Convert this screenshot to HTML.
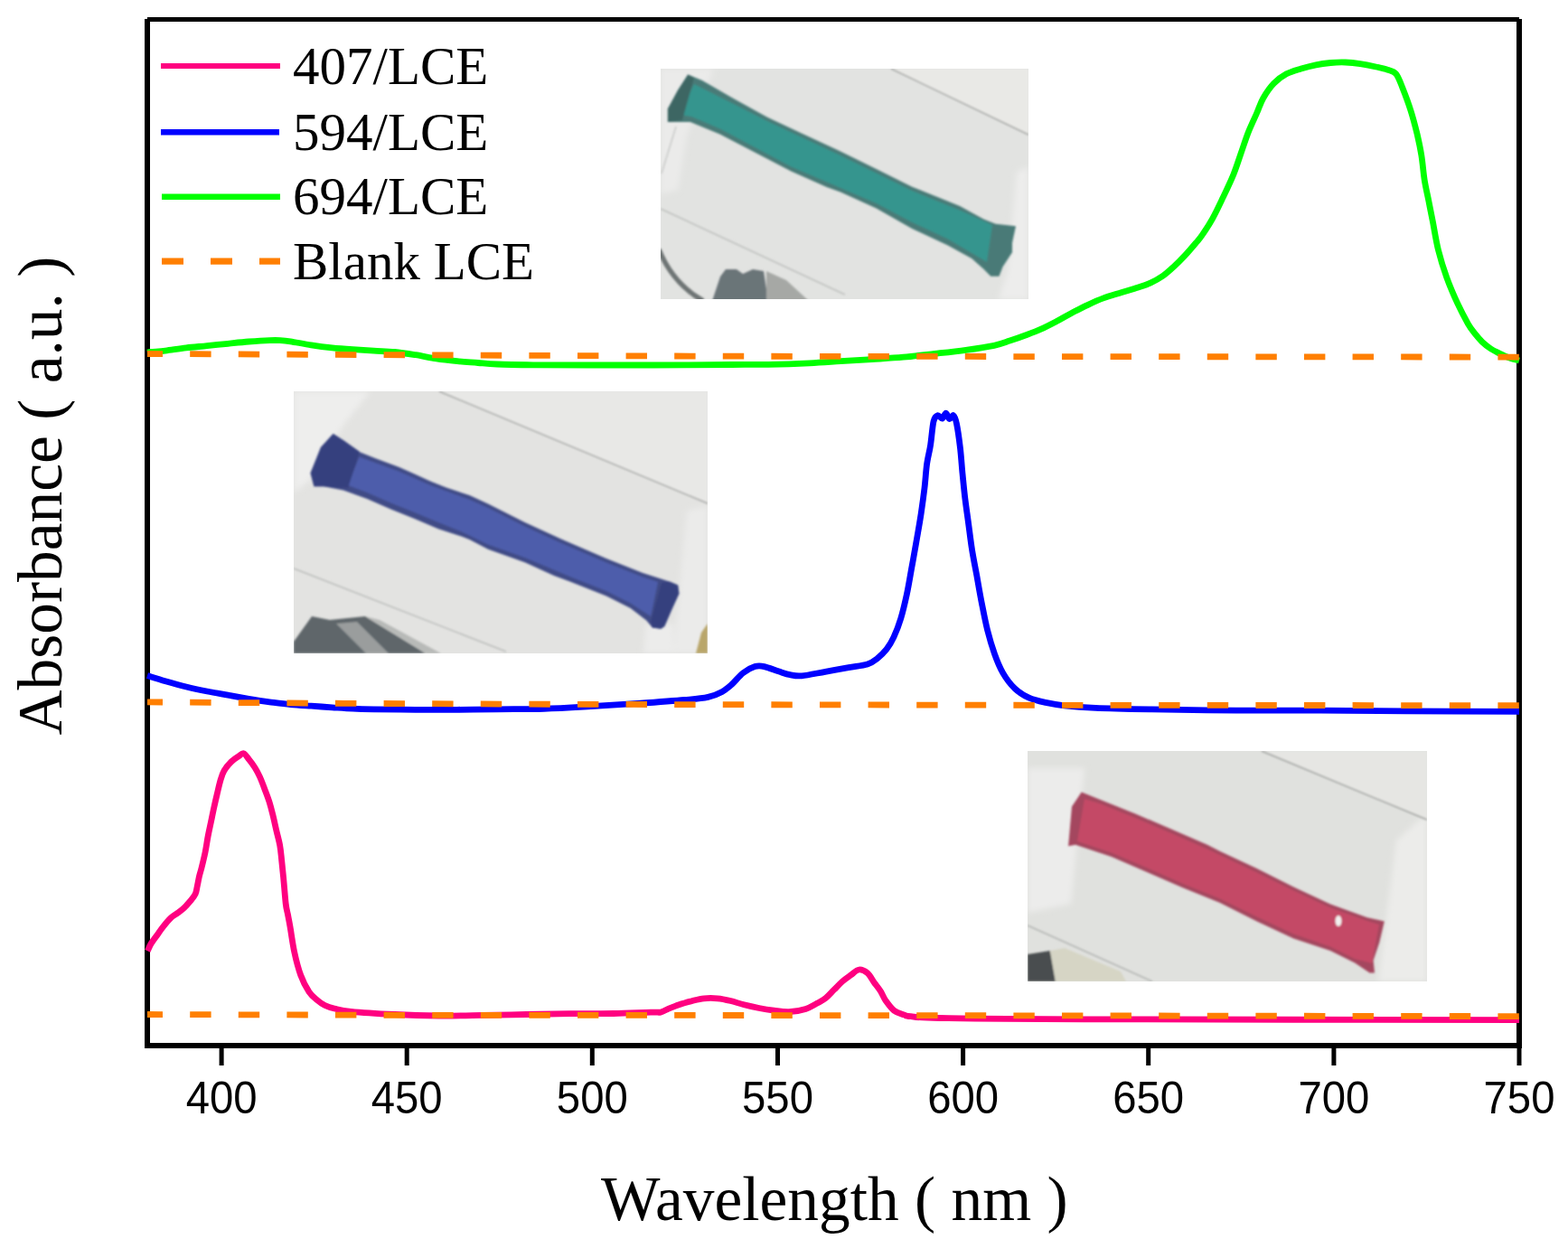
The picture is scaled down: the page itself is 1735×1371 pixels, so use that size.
<!DOCTYPE html>
<html><head><meta charset="utf-8"><title>Absorbance spectra</title>
<style>html,body{margin:0;padding:0;background:#fff;}body{width:1735px;height:1371px;overflow:hidden;}svg{display:block;}</style>
</head><body>
<svg width="1735" height="1371" viewBox="0 0 1735 1371">
<rect x="0" y="0" width="1735" height="1371" fill="#ffffff"/>
<defs>
<clipPath id="cg"><rect x="731" y="76" width="407" height="255"/></clipPath>
<clipPath id="cb"><rect x="325" y="433" width="458" height="290"/></clipPath>
<clipPath id="cr"><rect x="1137" y="831" width="442" height="255"/></clipPath>
<filter id="bl" x="-5%" y="-5%" width="110%" height="110%"><feGaussianBlur stdDeviation="1.3"/></filter>
<filter id="bl2" x="-10%" y="-10%" width="120%" height="120%"><feGaussianBlur stdDeviation="3"/></filter>
</defs>
<!-- green photo -->
<g clip-path="url(#cg)">
<rect x="731" y="76" width="407" height="255" fill="#e2e3e1"/>
<g filter="url(#bl2)">
<path d="M731,76 L790,76 L760,150 L750,210 L731,215 Z" fill="#ebebea"/>
<path d="M1125,190 L1138,185 L1138,331 L1105,331 L1115,300 Z" fill="#ededec"/>

</g>
<g filter="url(#bl)">
<path d="M986,76 L1138,76 L1138,149 Z" fill="#e9e9e6"/>
<path d="M986,76 L1138,149" stroke="#a4a6a4" stroke-width="1.4"/>
<path d="M731,231 L935,326" stroke="#bfc1bf" stroke-width="1.6"/>
<path d="M748,140 L732,192" stroke="#c8cac8" stroke-width="1.5"/>
<path d="M729,276 C738,298 752,318 778,333" stroke="#6e7474" stroke-width="5.5" fill="none"/>
<path d="M788,333 L797,306 L803,298 L815,298 L822,303 L833,298 L845,300 L850,333 Z" fill="#6b7478"/>
<path d="M848,300 L870,310 L895,333 L848,333 Z" fill="#a6a8a5"/>
<path d="M761.2,82.6 L777,89.1 L809.8,108 L849.1,129.8 L888.5,148.2 L927.9,166.6 L969.6,187 L1009.2,206.7 L1062,227.9 L1088.4,242.4 L1101.6,247.7 L1124,250.3 L1120,268.8 L1120,279.3 L1109.5,295.2 L1105.5,305.7 L1096.3,305.7 L1088.4,297.8 L1075.2,286 L1048.8,271.4 L1009.2,252.9 L969.6,230.5 L930,212.5 L914.7,207 L875.4,189.5 L836,169 L796.6,148.5 L763.8,135.1 L738.9,135.1 L738.9,120.6 L750,100 Z" fill="#497a77"/>
<path d="M768,93 L809.8,114 L849.1,134 L888.5,152.5 L927.9,171 L969.6,191.5 L1009.2,211 L1062,232.5 L1098,249 L1092,290 L1048.8,264.5 L1009.2,246 L969.6,225 L930,208 L875.4,184.5 L836,163.5 L796.6,142.5 L765,129 L752,127 Z" fill="#35958e"/>
<path d="M761.2,82.6 L768,86 L755,133 L738.9,135.1 L738.9,120.6 L750,100 Z" fill="#3e6664"/>
</g>
</g>
<!-- blue photo -->
<g clip-path="url(#cb)">
<rect x="325" y="433" width="458" height="290" fill="#e3e3e1"/>
<g filter="url(#bl2)">
<path d="M325,433 L410,433 L380,470 L345,530 L325,545 Z" fill="#eeeeed"/>
<path d="M745,723 L760,565 L783,560 L783,723 Z" fill="#ebebea"/>
<path d="M715,690 L745,690 L745,723 L712,723 Z" fill="#ececeb"/>
</g>
<g filter="url(#bl)">
<path d="M486,433 L783,433 L783,557 Z" fill="#e8e8e6"/>
<path d="M486,433 L783,557" stroke="#a4a6a4" stroke-width="1.4"/>
<path d="M325,629 L560,721" stroke="#bcbebc" stroke-width="1.6"/>
<path d="M325,710 L345,682 L365,686 L404,682 L471,723 L325,723 Z" fill="#5f666a"/>
<path d="M372,690 L395,688 L430,723 L405,723 Z" fill="#9a9d9d"/>
<path d="M404,682 L420,686 L488,723 L471,723 Z" fill="#b8bab8"/>
<path d="M776,700 L783,690 L783,723 L770,723 Z" fill="#b9a66a"/>
<path d="M368.7,479.9 L380.7,487.8 L397.5,500.1 L415,507.1 L441.2,516.7 L458.7,524.6 L476.2,532.5 L493.7,539.5 L520,548.2 L540,557.5 L580.7,577.9 L621,596.5 L670.9,617.9 L711.2,634 L740.7,643.4 L750.1,647.4 L751.4,656.8 L743.4,674.3 L735.3,693.1 L731.3,695.8 L721.9,694.4 L715.2,686.4 L697.7,673 L670.9,659.5 L630.6,643.4 L613,636.9 L580.7,622.3 L540,607.8 L520,597.2 L511.2,593.7 L485,585.2 L458.7,574 L432.5,563.4 L406.2,552 L380,542.5 L358.1,538.2 L347.5,538.2 L343.6,523.6 L355,495 Z" fill="#414c86"/>
<path d="M397.5,505.5 L415,512 L441.2,521.5 L476.2,537 L520,553 L540,562 L580.7,582.5 L621,601 L670.9,622.5 L711.2,638.5 L728,644 L720,682 L697.7,667.5 L670.9,654 L630.6,638 L580.7,617 L540,602.5 L511.2,588.5 L485,578 L458.7,567 L432.5,556.5 L406.2,545 L385,537 Z" fill="#4d5dab"/>
<path d="M368.7,479.9 L380.7,487.8 L397.9,499.8 L385,540 L358.1,538.2 L347.5,538.2 L343.6,523.6 L355,495 Z" fill="#363f7e"/>
<path d="M740.7,643.4 L750.1,647.4 L751.4,656.8 L743.4,674.3 L735.3,693.1 L731.3,695.8 L721.9,694.4 L720,688 L732,645 Z" fill="#363f7e"/>
</g>
</g>
<!-- red photo -->
<g clip-path="url(#cr)">
<rect x="1137" y="831" width="442" height="255" fill="#e0e1de"/>
<g filter="url(#bl2)">
<path d="M1137,850 L1200,850 L1185,1000 L1137,1010 Z" fill="#ececeb"/>
<path d="M1545,930 L1579,900 L1579,1086 L1525,1086 Z" fill="#ececea"/>
</g>
<g filter="url(#bl)">
<path d="M1396,831 L1579,831 L1579,907 Z" fill="#e6e6e3"/>
<path d="M1396,831 L1579,907" stroke="#9ea09e" stroke-width="1.4"/>
<path d="M1137,1024 L1275,1086" stroke="#b4b6b4" stroke-width="1.6"/>
<path d="M1137,1056 L1162,1052 L1168,1086 L1137,1086 Z" fill="#4a4e50"/>
<path d="M1162,1052 L1178,1049 L1240,1075 L1246,1086 L1168,1086 Z" fill="#d6d5c5"/>
<path d="M1196.7,876.5 L1216.5,884.5 L1256.3,900.4 L1296.1,917.6 L1335.9,934.8 L1350,942.1 L1390.7,961 L1431.4,981.4 L1472.1,1000.4 L1512.8,1015.3 L1531.8,1019.4 L1526.4,1042.4 L1519.6,1062.8 L1521,1076.4 L1515.5,1076.4 L1499.2,1065.5 L1472.1,1052 L1431.4,1038.4 L1390.7,1019.4 L1350,999 L1309.3,982.6 L1269.6,965.3 L1229.8,948.1 L1190,934.8 L1182.1,936.2 L1186,892.4 Z" fill="#a4465e"/>
<path d="M1200,884 L1216.5,889 L1256.3,905 L1296.1,922 L1335.9,939.5 L1390.7,965.5 L1431.4,985.5 L1472.1,1004.5 L1512.8,1019 L1526,1023 L1518,1066 L1499.2,1061 L1472.1,1047.5 L1431.4,1033.5 L1390.7,1014.5 L1350,994.5 L1309.3,978 L1269.6,960.5 L1229.8,943.5 L1192,931 Z" fill="#c44a66"/>
<ellipse cx="1481" cy="1019" rx="3.5" ry="6" fill="#f2f2f0"/>
</g>
</g>

<rect x="160" y="21" width="6" height="1139" fill="#000"/>
<rect x="1678" y="21" width="6" height="1139" fill="#000"/>
<rect x="163" y="19" width="1518" height="5" fill="#000"/>
<rect x="163" y="1154" width="1518" height="6" fill="#000"/>
<rect x="242.6" y="1158" width="5" height="21" fill="#000"/>
<rect x="447.7" y="1158" width="5" height="21" fill="#000"/>
<rect x="652.8" y="1158" width="5" height="21" fill="#000"/>
<rect x="858.0" y="1158" width="5" height="21" fill="#000"/>
<rect x="1063.1" y="1158" width="5" height="21" fill="#000"/>
<rect x="1268.2" y="1158" width="5" height="21" fill="#000"/>
<rect x="1473.4" y="1158" width="5" height="21" fill="#000"/>
<rect x="1678.5" y="1158" width="5" height="21" fill="#000"/>
<text transform="translate(245.1,1232) scale(0.965,1.033)" x="0" y="0" text-anchor="middle" font-family="Liberation Sans, Arial, sans-serif" font-size="49">400</text>
<text transform="translate(450.2,1232) scale(0.965,1.033)" x="0" y="0" text-anchor="middle" font-family="Liberation Sans, Arial, sans-serif" font-size="49">450</text>
<text transform="translate(655.3,1232) scale(0.965,1.033)" x="0" y="0" text-anchor="middle" font-family="Liberation Sans, Arial, sans-serif" font-size="49">500</text>
<text transform="translate(860.5,1232) scale(0.965,1.033)" x="0" y="0" text-anchor="middle" font-family="Liberation Sans, Arial, sans-serif" font-size="49">550</text>
<text transform="translate(1065.6,1232) scale(0.965,1.033)" x="0" y="0" text-anchor="middle" font-family="Liberation Sans, Arial, sans-serif" font-size="49">600</text>
<text transform="translate(1270.7,1232) scale(0.965,1.033)" x="0" y="0" text-anchor="middle" font-family="Liberation Sans, Arial, sans-serif" font-size="49">650</text>
<text transform="translate(1475.9,1232) scale(0.965,1.033)" x="0" y="0" text-anchor="middle" font-family="Liberation Sans, Arial, sans-serif" font-size="49">700</text>
<text transform="translate(1681.0,1232) scale(0.965,1.033)" x="0" y="0" text-anchor="middle" font-family="Liberation Sans, Arial, sans-serif" font-size="49">750</text>
<path d="M163.3,1052.3 C164.0,1050.9 165.4,1047.0 167.3,1043.9 C169.2,1040.8 172.4,1036.8 174.6,1033.7 C176.8,1030.7 178.0,1028.6 180.4,1025.6 C182.8,1022.5 186.5,1017.9 189.2,1015.4 C191.9,1012.9 194.1,1012.1 196.5,1010.3 C198.9,1008.5 201.4,1006.8 203.8,1004.5 C206.2,1002.2 208.9,999.0 211.0,996.5 C213.1,994.0 215.0,991.9 216.2,989.2 C217.4,986.5 217.6,983.7 218.3,980.4 C219.0,977.1 219.7,972.9 220.5,969.5 C221.3,966.1 222.0,964.4 223.1,960.0 C224.2,955.6 225.8,949.2 227.0,943.4 C228.2,937.6 229.1,930.7 230.2,925.0 C231.3,919.3 232.4,914.5 233.5,909.3 C234.6,904.0 235.7,898.5 236.8,893.5 C237.9,888.5 238.9,884.1 240.1,879.1 C241.3,874.1 242.7,867.7 244.0,863.3 C245.3,858.9 246.0,856.2 248.0,852.8 C250.0,849.4 253.2,845.6 255.8,843.0 C258.4,840.4 261.4,838.6 263.7,837.1 C266.0,835.6 267.6,833.2 269.6,833.8 C271.6,834.3 273.4,837.8 275.5,840.4 C277.6,843.0 280.1,846.3 282.1,849.5 C284.1,852.7 285.6,855.6 287.4,859.4 C289.1,863.2 290.9,867.9 292.6,872.5 C294.4,877.1 296.4,882.2 297.9,887.0 C299.4,891.8 300.5,896.1 301.8,901.4 C303.1,906.6 304.4,912.8 305.7,918.5 C307.0,924.2 308.7,930.0 309.7,935.5 C310.7,941.0 311.0,945.4 311.6,951.3 C312.2,957.2 312.8,962.9 313.6,971.0 C314.4,979.1 315.4,993.2 316.2,1000.0 C317.0,1006.8 317.7,1007.8 318.5,1012.0 C319.3,1016.2 319.8,1018.5 321.0,1025.4 C322.2,1032.3 323.8,1044.5 325.7,1053.4 C327.6,1062.3 330.0,1071.6 332.7,1079.0 C335.4,1086.4 338.9,1093.0 342.0,1097.7 C345.1,1102.4 348.5,1104.5 351.4,1107.0 C354.3,1109.5 356.4,1111.0 359.5,1112.5 C362.6,1114.0 365.2,1114.9 370.0,1116.0 C374.8,1117.1 377.3,1118.2 388.4,1119.3 C399.5,1120.4 420.7,1121.7 436.8,1122.5 C452.9,1123.3 469.0,1123.8 485.2,1124.0 C501.4,1124.2 517.6,1123.7 533.7,1123.4 C549.8,1123.2 565.9,1122.8 582.0,1122.5 C598.1,1122.2 614.3,1121.9 630.5,1121.7 C646.7,1121.5 664.1,1121.8 679.0,1121.5 C693.9,1121.2 711.3,1120.3 720.0,1120.1 C728.7,1119.9 727.9,1120.6 731.0,1120.1 C734.1,1119.5 735.0,1118.2 738.4,1116.8 C741.8,1115.4 746.8,1113.3 751.4,1111.8 C756.0,1110.2 761.5,1108.7 766.1,1107.5 C770.7,1106.3 774.4,1105.2 779.0,1104.8 C783.6,1104.3 788.9,1104.3 793.8,1104.8 C798.7,1105.2 803.6,1106.3 808.5,1107.5 C813.4,1108.7 818.1,1110.5 823.3,1111.8 C828.5,1113.1 834.4,1114.4 839.9,1115.5 C845.4,1116.6 851.0,1117.5 856.5,1118.2 C862.0,1118.9 867.3,1120.0 873.1,1119.7 C878.9,1119.4 886.3,1118.0 891.5,1116.4 C896.7,1114.8 900.7,1112.0 904.4,1110.0 C908.1,1108.0 910.6,1106.9 913.7,1104.4 C916.8,1101.9 919.8,1098.3 922.9,1095.2 C926.0,1092.1 929.0,1088.7 932.1,1086.0 C935.2,1083.3 938.2,1081.3 941.3,1079.1 C944.4,1076.9 947.4,1073.4 950.5,1073.0 C953.6,1072.6 957.0,1074.4 959.8,1076.7 C962.6,1079.0 964.6,1083.5 967.1,1086.9 C969.6,1090.3 972.4,1093.6 974.5,1097.0 C976.6,1100.4 977.5,1103.7 980.0,1107.2 C982.5,1110.7 985.9,1115.6 989.3,1118.2 C992.7,1120.8 997.2,1121.8 1000.3,1122.9 C1003.4,1124.0 1001.1,1124.1 1007.7,1124.7 C1014.3,1125.3 1008.0,1126.0 1040.0,1126.5 C1072.0,1127.0 1093.2,1127.5 1200.0,1127.8 C1306.8,1128.1 1600.8,1128.5 1681.0,1128.6" fill="none" stroke="#ff0080" stroke-width="6.8" stroke-linejoin="round"/>
<path d="M163.0,1122.5 L450.0,1123.3 L1000.0,1123.6 L1681.0,1124.6" stroke="#ff7f00" stroke-width="6.8" fill="none" stroke-dasharray="23.4 30.2" stroke-dashoffset="6.4"/>
<path d="M163.0,747.6 C166.3,748.6 175.8,751.6 183.0,753.7 C190.2,755.8 198.4,758.1 206.1,760.0 C213.8,761.9 221.5,763.5 229.2,765.0 C236.9,766.5 244.5,767.8 252.2,769.2 C259.9,770.6 267.6,772.0 275.3,773.3 C283.0,774.6 290.6,775.8 298.3,776.8 C306.0,777.8 313.7,778.9 321.4,779.6 C329.1,780.3 336.7,780.7 344.4,781.2 C352.1,781.7 359.8,782.3 367.5,782.8 C375.2,783.3 382.8,783.9 390.5,784.2 C398.2,784.6 402.1,784.7 413.6,784.9 C425.1,785.1 444.3,785.2 459.7,785.3 C475.1,785.4 490.8,785.4 505.8,785.3 C520.9,785.2 534.0,785.0 550.0,784.8 C566.0,784.6 584.6,784.8 601.9,784.3 C619.2,783.8 636.4,782.7 653.7,781.7 C671.0,780.7 688.3,779.6 705.6,778.4 C722.9,777.2 744.5,775.7 757.5,774.5 C770.5,773.3 776.5,772.9 783.4,771.4 C790.3,769.9 794.7,767.7 799.0,765.4 C803.3,763.1 805.5,761.1 809.4,757.6 C813.3,754.1 818.0,747.9 822.3,744.6 C826.6,741.3 831.4,738.8 835.3,737.6 C839.2,736.4 841.4,736.7 845.7,737.6 C850.0,738.5 856.5,741.3 861.2,742.8 C866.0,744.3 869.9,745.9 874.2,746.7 C878.5,747.5 880.7,748.4 887.2,747.8 C893.7,747.2 904.5,744.8 913.1,743.3 C921.7,741.8 931.2,740.1 939.0,738.7 C946.8,737.3 954.5,736.6 959.8,735.0 C965.0,733.4 967.0,731.6 970.5,728.8 C974.0,726.0 977.9,722.2 981.0,718.3 C984.1,714.4 986.3,710.9 988.9,705.2 C991.5,699.5 994.4,692.1 996.8,684.2 C999.2,676.3 1001.3,667.2 1003.3,658.0 C1005.3,648.8 1006.9,638.7 1008.6,629.1 C1010.4,619.5 1012.0,610.3 1013.8,600.2 C1015.5,590.1 1017.6,578.8 1019.1,568.7 C1020.6,558.6 1021.9,549.0 1023.0,539.8 C1024.1,530.6 1024.5,521.4 1025.6,513.5 C1026.7,505.6 1028.4,500.4 1029.6,492.5 C1030.8,484.6 1031.7,471.8 1033.0,466.3 C1034.3,460.8 1035.9,460.2 1037.5,459.7 C1039.1,459.2 1041.2,463.5 1042.7,463.1 C1044.2,462.7 1045.4,457.0 1046.7,457.1 C1048.0,457.2 1049.2,463.2 1050.6,463.6 C1052.0,464.0 1053.7,458.8 1055.0,459.7 C1056.3,460.6 1057.3,463.0 1058.5,468.9 C1059.7,474.8 1061.3,485.9 1062.4,495.1 C1063.5,504.3 1064.1,514.8 1065.0,524.0 C1065.9,533.2 1066.6,541.1 1067.7,550.3 C1068.8,559.5 1070.3,569.6 1071.6,579.2 C1072.9,588.8 1074.0,598.5 1075.5,608.1 C1077.0,617.7 1079.0,627.3 1080.8,636.9 C1082.5,646.5 1084.0,655.7 1086.0,665.8 C1088.0,675.9 1090.2,687.7 1092.6,697.3 C1095.0,706.9 1097.7,715.7 1100.5,723.6 C1103.3,731.5 1106.0,738.2 1109.7,744.6 C1113.4,751.0 1118.0,757.1 1122.8,761.7 C1127.6,766.3 1132.9,769.6 1138.6,772.2 C1144.3,774.8 1150.4,776.0 1157.0,777.4 C1163.6,778.8 1168.8,779.8 1178.0,780.8 C1187.2,781.8 1196.1,782.6 1212.2,783.3 C1228.3,784.0 1248.5,784.4 1274.5,784.9 C1300.5,785.4 1336.8,785.9 1367.9,786.1 C1399.0,786.3 1430.1,786.0 1461.2,786.1 C1492.3,786.2 1518.0,786.6 1554.6,786.8 C1591.2,787.0 1659.9,787.3 1681.0,787.4" fill="none" stroke="#0000ff" stroke-width="6.8" stroke-linejoin="round"/>
<path d="M163.0,776.9 L380.0,778.3 L620.0,779.3 L1190.0,780.4 L1681.0,780.6" stroke="#ff7f00" stroke-width="6.8" fill="none" stroke-dasharray="23.4 30.2" stroke-dashoffset="6.4"/>
<path d="M163.0,390.2 C163.7,390.1 163.6,389.9 166.9,389.5 C170.2,389.1 176.5,388.9 183.0,388.1 C189.5,387.3 198.4,385.8 206.1,384.9 C213.8,384.0 221.5,383.4 229.2,382.6 C236.9,381.8 244.5,381.1 252.2,380.3 C259.9,379.5 267.6,378.6 275.3,378.0 C283.0,377.4 292.5,376.8 298.3,376.6 C304.1,376.4 306.0,376.4 309.9,376.6 C313.8,376.8 315.6,376.9 321.4,377.8 C327.1,378.7 336.7,380.7 344.4,381.9 C352.1,383.1 359.8,384.1 367.5,384.9 C375.2,385.7 382.8,386.2 390.5,386.7 C398.2,387.2 405.9,387.6 413.6,388.1 C421.3,388.6 429.0,388.7 436.7,389.5 C444.4,390.3 452.0,391.5 459.7,392.7 C467.4,393.9 475.1,395.7 482.8,396.9 C490.5,398.1 498.1,398.9 505.8,399.7 C513.5,400.5 521.5,400.9 528.9,401.5 C536.3,402.1 539.8,402.6 550.0,403.0 C560.2,403.4 573.3,403.6 590.0,403.8 C606.7,404.0 627.9,404.0 650.0,404.0 C672.1,404.0 696.2,404.1 722.9,404.0 C749.6,403.9 788.8,403.6 810.0,403.5 C831.2,403.4 835.7,403.6 850.0,403.3 C864.3,403.0 882.4,402.4 895.8,401.8 C909.2,401.2 918.9,400.4 930.4,399.7 C941.9,399.0 953.5,398.4 965.0,397.7 C976.5,396.9 988.1,396.2 999.6,395.2 C1011.1,394.1 1022.6,392.7 1034.1,391.4 C1045.6,390.1 1057.7,388.8 1068.7,387.3 C1079.7,385.8 1091.9,384.0 1100.0,382.3 C1108.1,380.6 1111.5,379.0 1117.3,377.1 C1123.1,375.2 1128.8,373.2 1134.6,371.0 C1140.4,368.8 1146.1,366.7 1151.9,364.1 C1157.7,361.5 1163.4,358.5 1169.2,355.5 C1175.0,352.5 1180.7,349.0 1186.5,346.0 C1192.3,343.0 1198.0,340.0 1203.8,337.3 C1209.5,334.6 1215.2,332.0 1221.0,329.9 C1226.8,327.8 1232.5,326.2 1238.3,324.4 C1244.1,322.6 1249.8,321.1 1255.6,319.2 C1261.4,317.3 1267.7,315.4 1272.9,313.1 C1278.1,310.8 1282.5,308.3 1286.8,305.3 C1291.1,302.3 1294.9,298.7 1298.9,295.0 C1302.9,291.3 1307.0,287.2 1311.0,282.9 C1315.0,278.6 1319.9,272.8 1323.1,269.0 C1326.3,265.2 1326.9,264.9 1330.0,260.4 C1333.1,255.9 1337.8,248.8 1341.7,241.8 C1345.6,234.8 1349.4,226.6 1353.3,218.4 C1357.2,210.2 1361.7,200.9 1365.0,192.7 C1368.3,184.5 1370.5,177.2 1373.2,169.4 C1375.9,161.6 1378.5,153.4 1381.4,146.0 C1384.3,138.6 1388.0,131.2 1390.7,125.0 C1393.4,118.8 1394.6,114.1 1397.7,108.7 C1400.8,103.3 1405.1,96.9 1409.4,92.4 C1413.7,87.9 1418.4,84.5 1423.4,81.8 C1428.5,79.1 1434.2,77.7 1439.7,76.0 C1445.2,74.3 1450.6,72.9 1456.1,71.8 C1461.5,70.7 1467.0,70.0 1472.4,69.5 C1477.9,69.0 1483.3,68.8 1488.8,69.0 C1494.2,69.2 1499.7,69.8 1505.1,70.6 C1510.5,71.4 1516.4,72.6 1521.4,73.7 C1526.5,74.8 1531.5,75.9 1535.4,77.2 C1539.3,78.5 1542.1,78.5 1544.8,81.8 C1547.5,85.1 1549.1,90.2 1551.8,97.0 C1554.5,103.8 1558.4,114.1 1561.1,122.7 C1563.8,131.3 1566.1,140.2 1568.1,148.4 C1570.0,156.6 1571.4,163.1 1572.8,171.7 C1574.2,180.2 1574.9,191.1 1576.3,199.7 C1577.7,208.3 1579.5,215.3 1581.0,223.1 C1582.5,230.9 1583.8,237.4 1585.6,246.4 C1587.3,255.4 1589.0,266.7 1591.5,276.8 C1594.0,286.9 1597.3,297.4 1600.8,307.1 C1604.3,316.8 1608.6,326.7 1612.5,335.2 C1616.4,343.7 1621.2,352.6 1624.4,358.3 C1627.7,364.0 1629.4,365.9 1632.0,369.2 C1634.6,372.5 1637.2,375.6 1640.2,378.4 C1643.2,381.2 1646.5,383.9 1649.7,386.0 C1652.9,388.1 1656.0,389.4 1659.2,391.0 C1662.4,392.6 1665.2,394.2 1668.8,395.5 C1672.4,396.8 1679.0,398.4 1681.0,399.0" fill="none" stroke="#00ff00" stroke-width="6.8" stroke-linejoin="round"/>
<path d="M163.0,391.5 L590.0,393.4 L800.0,394.2 L1681.0,395.1" stroke="#ff7f00" stroke-width="6.8" fill="none" stroke-dasharray="23.4 30.2" stroke-dashoffset="6.4"/>
<rect x="178" y="70" width="132" height="6" fill="#ff0080"/>
<rect x="178" y="143" width="131" height="6.5" fill="#0000ff"/>
<rect x="179" y="214.5" width="131" height="6.5" fill="#00ff00"/>
<rect x="179" y="285.5" width="24" height="7.2" fill="#ff7f00"/>
<rect x="233" y="285.5" width="24" height="7.2" fill="#ff7f00"/>
<rect x="287" y="285.5" width="23" height="7.2" fill="#ff7f00"/>
<text x="324" y="92.8" font-family="Liberation Serif, Times New Roman, serif" font-size="59">407/LCE</text>
<text x="324" y="165.9" font-family="Liberation Serif, Times New Roman, serif" font-size="59">594/LCE</text>
<text x="324" y="237.0" font-family="Liberation Serif, Times New Roman, serif" font-size="59">694/LCE</text>
<text x="324" y="309.0" font-family="Liberation Serif, Times New Roman, serif" font-size="59">Blank LCE</text>
<text x="665" y="1350.4" font-family="Liberation Serif, Times New Roman, serif" font-size="69.4">Wavelength ( nm )</text>
<text transform="translate(68,813.5) rotate(-90)" x="0" y="0" font-family="Liberation Serif, Times New Roman, serif" font-size="69.4">Absorbance ( a.u. )</text>
</svg>
</body></html>
